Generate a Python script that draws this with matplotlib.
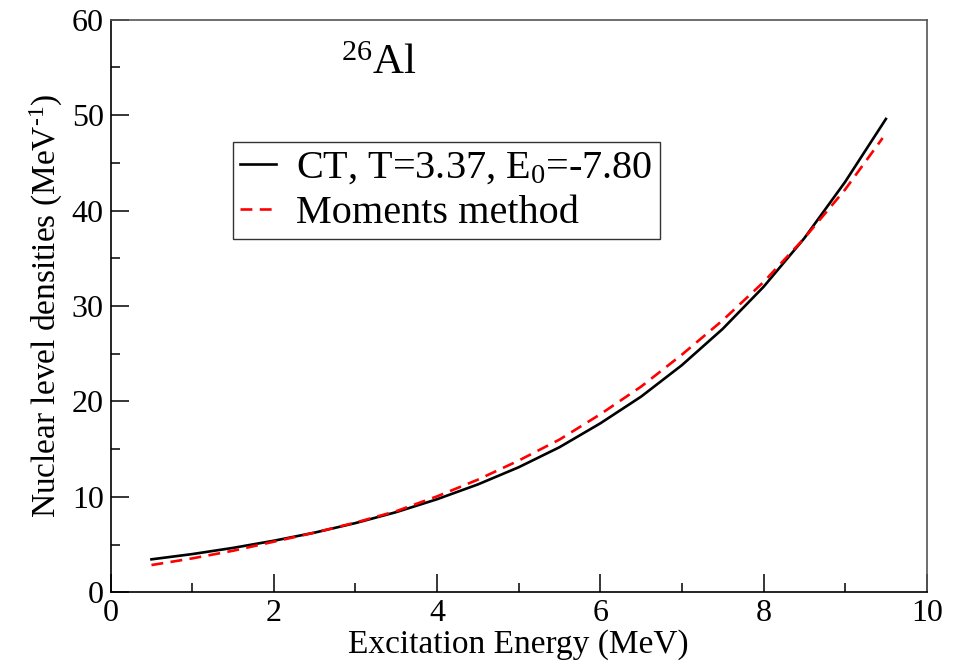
import numpy as np
import matplotlib.pyplot as plt
from matplotlib.ticker import MultipleLocator

plt.rcParams['font.family'] = ['Liberation Serif', 'DejaVu Serif']
plt.rcParams['mathtext.fontset'] = 'custom'
plt.rcParams['mathtext.rm'] = 'Liberation Serif'
plt.rcParams['mathtext.it'] = 'Liberation Serif'

# data
energy = [0.5, 1.0, 1.5, 2.0, 2.5, 3.0, 3.5, 4.0, 4.5, 5.0,
          5.5, 6.0, 6.5, 7.0, 7.5, 8.0, 8.5, 9.0, 9.5]
rho_ct = [3.45, 4.0, 4.65, 5.4, 6.25, 7.25, 8.4, 9.75, 11.3, 13.1,
          15.2, 17.7, 20.5, 23.8, 27.6, 32.0, 37.1, 43.0, 49.6]
energy_mom = [0.5, 1.0, 1.5, 2.0, 2.5, 3.0, 3.5, 4.0, 4.5, 5.0,
              5.5, 6.0, 6.5, 7.0, 7.5, 8.0, 8.5, 9.0, 9.46]
rho_mom = [2.85, 3.55, 4.35, 5.3, 6.25, 7.3, 8.5, 10.05, 11.8, 13.8,
           16.0, 18.65, 21.55, 24.9, 28.5, 32.5, 37.1, 42.2, 47.6]

fig = plt.figure(figsize=(9.54, 6.63), dpi=100)
ax = fig.add_axes([0.116, 0.1067, 0.8554, 0.8636])

ax.plot(energy, rho_ct, color='black', lw=1.9, label=r'CT, T=3.37, E$_0$=-7.80')
ax.plot(energy_mom, rho_mom, color='red', lw=1.9, dashes=(4.5, 2.8), label='Moments method')

ax.set_xlim(0, 10)
ax.set_ylim(0, 60)
ax.xaxis.set_major_locator(MultipleLocator(2))
ax.xaxis.set_minor_locator(MultipleLocator(1))
ax.yaxis.set_major_locator(MultipleLocator(10))
ax.yaxis.set_minor_locator(MultipleLocator(5))
ax.tick_params(which='both', direction='in', top=False, right=False,
               labelsize=23, width=1.1, pad=5)
ax.tick_params(which='major', length=13)
ax.tick_params(which='minor', length=6.5)

for side in ['top', 'right']:
    ax.spines[side].set_color('#555555')
for side in ax.spines:
    ax.spines[side].set_linewidth(1.2)

ax.set_xlabel('Excitation Energy (MeV)', fontsize=24, labelpad=1)
ax.set_ylabel('Nuclear level densities (MeV$^{\u20101}$)', fontsize=24, labelpad=5)

ax.text(2.82, 54.3, r'$^{26}$Al', fontsize=31, ha='left', va='baseline')

leg = ax.legend(loc='upper left', bbox_to_anchor=(0.1495, 0.786), fontsize=29,
                frameon=True, fancybox=False, shadow=False, handlelength=0.9,
                handletextpad=0.5, borderpad=0.18, labelspacing=0.2,
                borderaxespad=0)
leg.get_frame().set_edgecolor('black')
leg.get_frame().set_linewidth(1.0)

fig.savefig('out.png', dpi=100)
